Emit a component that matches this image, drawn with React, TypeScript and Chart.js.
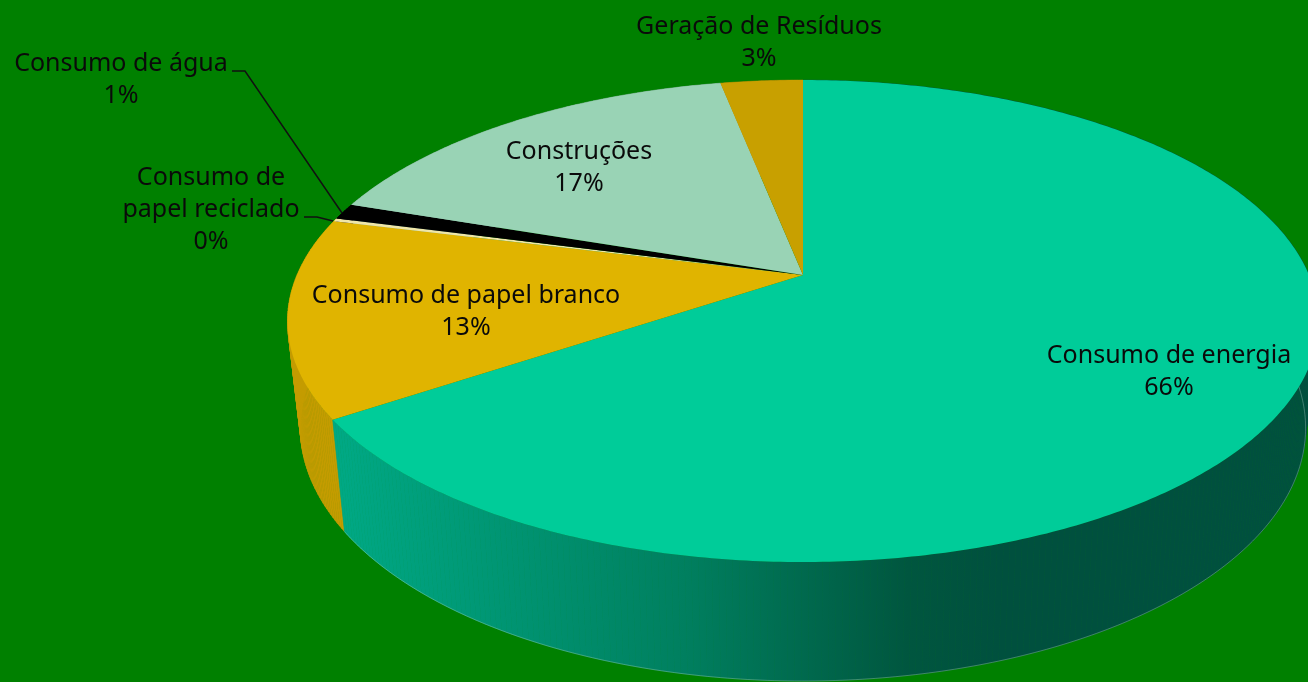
import React, { useEffect, useRef } from "react";
import { Chart, registerables } from "chart.js";

Chart.register(...registerables);

const categories = [
  "Consumo de energia",
  "Consumo de papel branco",
  "Consumo de papel reciclado",
  "Consumo de água",
  "Construções",
  "Geração de Resíduos",
];
const shares = [65.6, 13.3, 0.2, 1.1, 16.7, 3.1];
const topColors = ["#00CC99", "#E0B400", "#F0E6A8", "#000000", "#99D3B5", "#C8A000"];

// Wrapped label text and its centre on the canvas, one entry per slice.
const labelLines = [
  ["Consumo de energia"],
  ["Consumo de papel branco"],
  ["Consumo de", "papel reciclado"],
  ["Consumo de água"],
  ["Construções"],
  ["Geração de Resíduos"],
];
const labelAnchors = [
  [1169, 356],
  [466, 296],
  [211, 178],
  [121, 64],
  [579, 152],
  [759, 27],
];
const leaderLines = [
  [[232, 71], [245, 71], [342, 213]],
  [[304, 217], [317, 217], [333, 221]],
];

// Perspective projection of the disc: the hub sits above the middle of the rim's ellipse.
const HUB_X = 803;
const HUB_Y = 275;
const RADIUS_X = 506;
const RADIUS_Y = 232.2;
const TILT = -0.191;
// The lower rim is the upper rim narrowed, stretched and pushed down.
const DEPTH_SX = 0.975;
const DEPTH_SY = 1.05;
const DEPTH_DY = 90.9;
const LINE_HEIGHT = 32;
const FONT = '25px "Noto Sans", sans-serif';

function rimPoint(angle: number): [number, number] {
  const theta = angle + Math.PI / 2;
  const u = Math.sin(theta);
  const v = -Math.cos(theta);
  const w = 1 + TILT * v;
  return [HUB_X + (RADIUS_X * u) / w, HUB_Y + (RADIUS_Y * v) / w];
}

function lowerPoint(p: [number, number]): [number, number] {
  return [HUB_X + DEPTH_SX * (p[0] - HUB_X), DEPTH_DY + DEPTH_SY * p[1]];
}

function rimSamples(start: number, end: number): [number, number][] {
  const steps = Math.max(2, Math.ceil((end - start) * 90));
  const pts: [number, number][] = [];
  for (let i = 0; i <= steps; i++) pts.push(rimPoint(start + ((end - start) * i) / steps));
  return pts;
}

const perspectivePie = {
  id: "perspectivePie",
  beforeDatasetDraw(chart: any, args: any) {
    const ctx: CanvasRenderingContext2D = chart.ctx;
    const arcs = chart.getDatasetMeta(args.index).data;

    ctx.save();
    // Outer wall first, so the top faces cover whatever lies behind them.
    const wallShade = ctx.createLinearGradient(345, 0, 1000, 0);
    wallShade.addColorStop(0, "#00A884");
    wallShade.addColorStop(0.52, "#007F5F");
    wallShade.addColorStop(0.86, "#00563F");
    wallShade.addColorStop(1, "#00503E");
    const wallFill = [wallShade, "#C49C00", "#C49C00", "#000000", "#7FB097", "#A88600"];
    // The wall is built from thin quads so that its silhouette runs straight
    // between the two rims, as on a real cylinder.
    [1, 2, 3, 4, 5, 0].forEach((i) => {
      const arc = arcs[i];
      const rim = rimSamples(arc.startAngle, arc.endAngle);
      ctx.fillStyle = wallFill[i];
      ctx.strokeStyle = wallFill[i];
      ctx.lineWidth = 0.6;
      for (let k = 0; k < rim.length - 1; k++) {
        const a = rim[k];
        const b = rim[k + 1];
        const c = lowerPoint(b);
        const d = lowerPoint(a);
        ctx.beginPath();
        ctx.moveTo(a[0], a[1]);
        ctx.lineTo(b[0], b[1]);
        ctx.lineTo(c[0], c[1]);
        ctx.lineTo(d[0], d[1]);
        ctx.closePath();
        ctx.fill();
        ctx.stroke();
      }
    });

    // Faint highlight along the foot of the large slice's wall.
    const foot = rimSamples(arcs[0].startAngle, arcs[0].endAngle).map(lowerPoint);
    ctx.beginPath();
    foot.forEach((p, k) => (k ? ctx.lineTo(p[0], p[1]) : ctx.moveTo(p[0], p[1])));
    ctx.strokeStyle = "rgba(210,235,225,0.3)";
    ctx.lineWidth = 1;
    ctx.stroke();

    arcs.forEach((arc: any, i: number) => {
      const rim = rimSamples(arc.startAngle, arc.endAngle);
      ctx.beginPath();
      ctx.moveTo(HUB_X, HUB_Y);
      rim.forEach((p) => ctx.lineTo(p[0], p[1]));
      ctx.closePath();
      ctx.fillStyle = topColors[i];
      ctx.fill();
    });
    ctx.restore();
    return false;
  },
  afterDatasetsDraw(chart: any) {
    const ctx: CanvasRenderingContext2D = chart.ctx;
    ctx.save();
    ctx.strokeStyle = "#111";
    ctx.lineWidth = 1.5;
    leaderLines.forEach((line) => {
      ctx.beginPath();
      line.forEach((p, k) => (k ? ctx.lineTo(p[0], p[1]) : ctx.moveTo(p[0], p[1])));
      ctx.stroke();
    });

    ctx.font = FONT;
    ctx.textAlign = "center";
    ctx.textBaseline = "middle";
    ctx.fillStyle = "#0A0A0A";
    shares.forEach((value, i) => {
      const lines = [...labelLines[i], `${Math.round(value)}%`];
      lines.forEach((text, k) => {
        ctx.fillText(text, labelAnchors[i][0], labelAnchors[i][1] + k * LINE_HEIGHT);
      });
    });
    ctx.restore();
  },
};

export default function App() {
  const canvasRef = useRef<HTMLCanvasElement>(null);

  useEffect(() => {
    const chart = new Chart(canvasRef.current!, {
      type: "pie",
      data: {
        labels: categories,
        datasets: [{ data: shares, backgroundColor: topColors, borderWidth: 0 }],
      },
      options: {
        animation: false,
        responsive: false,
        plugins: { legend: { display: false }, tooltip: { enabled: false } },
      },
      plugins: [perspectivePie],
    });
    return () => chart.destroy();
  }, []);

  return (
    <div style={{ position: "fixed", left: 0, top: 0, width: 1308, height: 682, background: "#008000" }}>
      <canvas ref={canvasRef} width={1308} height={682} style={{ display: "block" }} />
    </div>
  );
}
